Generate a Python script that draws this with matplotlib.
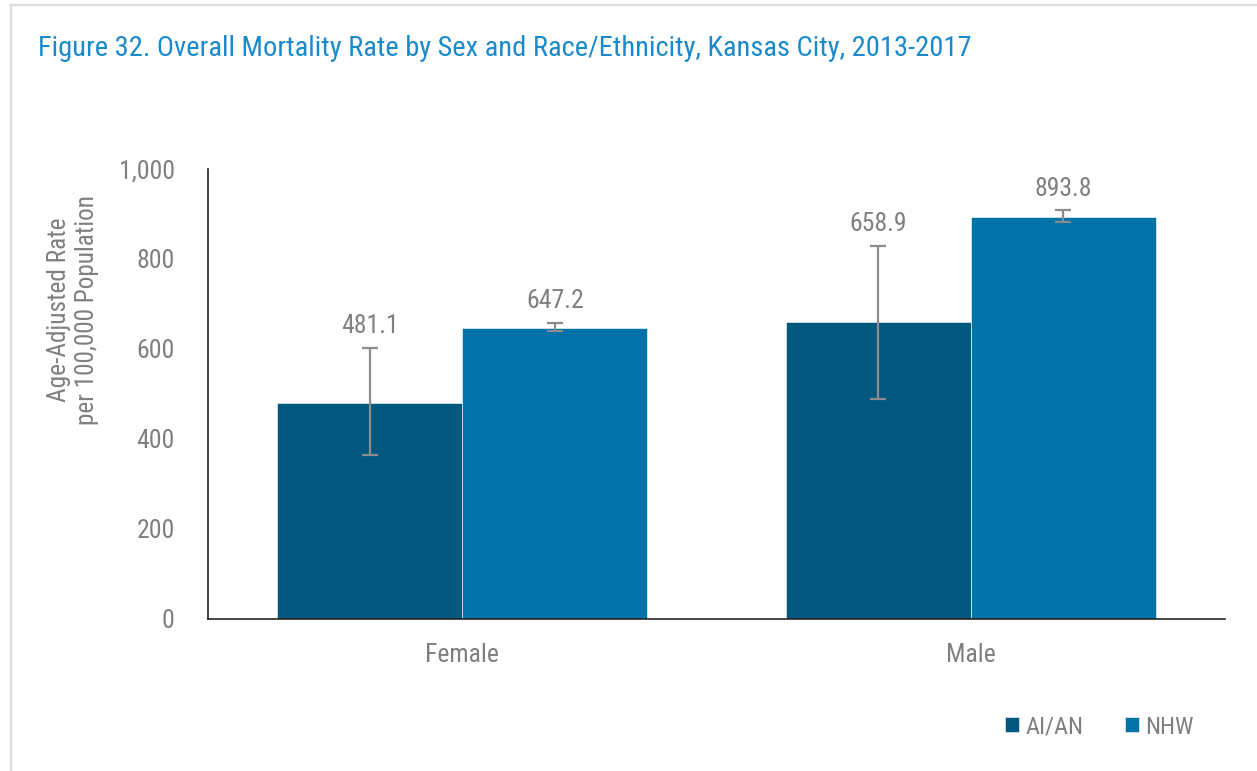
import numpy as np
import matplotlib.pyplot as plt
from matplotlib.lines import Line2D

plt.rcParams['font.family'] = ['Roboto Condensed', 'Liberation Sans Narrow', 'Roboto', 'DejaVu Sans']

# data
sexes = ["Female", "Male"]
groups = ["AI/AN", "NHW"]
rates = {"AI/AN": [481.1, 658.9], "NHW": [647.2, 893.8]}
ci_low = {"AI/AN": [364, 490], "NHW": [639, 882]}
ci_high = {"AI/AN": [603, 830], "NHW": [658, 908]}
colors = {"AI/AN": "#01577d", "NHW": "#0072a7"}

gray = "#7f7f7f"

fig = plt.figure(figsize=(12.57, 7.71), dpi=100)
# frame lines on the top and left only
fx, fy = 11 / 1257, 1 - 5 / 771
fig.add_artist(Line2D([fx, 1], [fy, fy], transform=fig.transFigure, color="#dcdcdc", lw=1.6))
fig.add_artist(Line2D([fx, fx], [0, fy], transform=fig.transFigure, color="#dcdcdc", lw=1.6))

ax = fig.add_axes([208 / 1257, 1 - 619 / 771, (1225 - 208) / 1257, (619 - 169) / 771])

x = np.arange(len(sexes))
w = 0.364
for i, g in enumerate(groups):
    pos = x + (i - 0.5) * w
    vals = np.array(rates[g])
    err = [vals - np.array(ci_low[g]), np.array(ci_high[g]) - vals]
    ax.bar(pos, vals, w, color=colors[g], edgecolor="white", linewidth=0.4, label=g, zorder=2)
    ax.errorbar(pos, vals, yerr=err, fmt="none", ecolor="#8c8c8c", elinewidth=1.6,
                capsize=6, capthick=1.6, zorder=3)
    for p, v, hi in zip(pos, vals, ci_high[g]):
        ax.text(p, hi + 22, f"{v:.1f}", ha="center", va="bottom", fontsize=18.5, color=gray)

ax.set_xlim(-0.5, 1.5)
ax.set_ylim(0, 1000)
ax.set_yticks(np.arange(0, 1001, 200))
ax.set_yticklabels(["0", "200", "400", "600", "800", "1,000"])
ax.set_xticks(x)
ax.set_xticklabels(sexes)
ax.tick_params(axis="both", length=0, labelsize=18.5, labelcolor=gray)
ax.tick_params(axis="y", pad=24)
ax.tick_params(axis="x", pad=17)
for s in ["top", "right"]:
    ax.spines[s].set_visible(False)
for s in ["left", "bottom"]:
    ax.spines[s].set_color("#262626")
    ax.spines[s].set_linewidth(1.2)

fig.text(73 / 1257, 1 - 310 / 771, "Age-Adjusted Rate\nper 100,000 Population", rotation=90,
         ha="center", va="center", fontsize=18.2, color=gray, linespacing=1.25)
fig.text(38 / 1257, 1 - 49 / 771, "Figure 32. Overall Mortality Rate by Sex and Race/Ethnicity, Kansas City, 2013-2017",
         ha="left", va="center", fontsize=20.5, color="#1b8acb")

leg = ax.legend(loc="center left", bbox_to_anchor=(1005 / 1257, 1 - 727 / 771),
                bbox_transform=fig.transFigure, ncol=2, frameon=False, fontsize=17.5,
                borderpad=0, borderaxespad=0,
                handlelength=0.58, handleheight=0.58, handletextpad=0.25, columnspacing=1.73)
for t in leg.get_texts():
    t.set_color(gray)

fig.savefig("out.png", dpi=100)
